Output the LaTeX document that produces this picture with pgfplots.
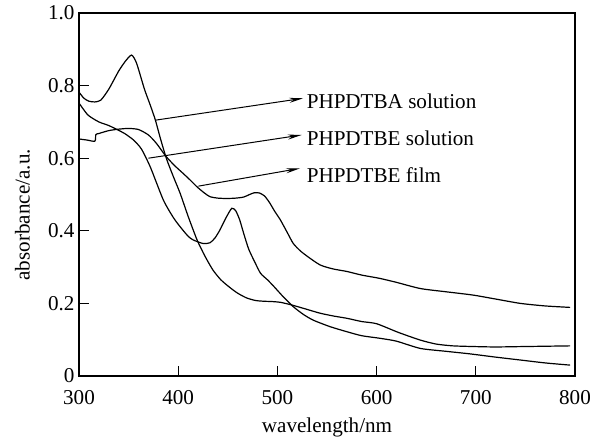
\documentclass[border=0pt]{standalone}
\usepackage{pgfplots}
\pgfplotsset{compat=1.18}
\usetikzlibrary{arrows.meta}
\usepackage{fontspec}
\setmainfont{Liberation Serif}

\begin{document}
\begin{tikzpicture}
\begin{axis}[
  name=ax,
  scale only axis,
  width=496bp, height=363bp,
  xmin=300, xmax=800, ymin=0, ymax=1.0,
  xtick={300,400,...,800},
  ytick={0,0.2,0.4,0.6,0.8,1.0},
  yticklabels={0,0.2,0.4,0.6,0.8,1.0},
  tick pos=left,
  tick align=inside,
  major tick length=10bp,
  axis line style={line width=1.1bp},
  tick style={line width=1.1bp, black},
  font=\fontsize{21.2}{25}\selectfont,
  /pgf/number format/assume math mode=true,
  xticklabel style={yshift=-11bp},
  yticklabel style={xshift=-1bp},
  xlabel={wavelength/nm},
  ylabel={absorbance/a.u.},
  xlabel style={at={(axis description cs:0.5,-0.142)}, anchor=center},
  ylabel style={at={(axis description cs:-0.114,0.444)}, anchor=center},
  cycle list={{black}},
  no markers,
  every axis plot/.append style={line width=1.2bp, smooth, tension=0.4},
  clip=false,
]
% PHPDTBA solution
\addplot coordinates {
(300,0.782) (305,0.765) (310,0.757) (316,0.755) (322,0.760) (330,0.790)
(340,0.840) (347,0.868) (353,0.884) (358,0.862) (366,0.790) (372,0.745)
(377,0.705) (382,0.655) (388,0.600) (395,0.550) (402,0.503) (410,0.440)
(419,0.375) (427,0.330) (435,0.292) (443,0.265) (452,0.244) (460,0.228)
(469,0.215) (478,0.208) (486,0.206) (495,0.205) (503,0.203) (514,0.196)
(528,0.185) (543,0.173) (557,0.165) (570,0.159) (585,0.150) (600,0.144)
(622,0.120) (644,0.099) (660,0.088) (677,0.083) (700,0.081) (720,0.080)
(745,0.081) (770,0.082) (795,0.083)
};
% PHPDTBE solution
\addplot coordinates {
(300,0.752) (309,0.719) (320,0.700) (330,0.690) (339,0.678) (346,0.668)
(355,0.650) (363,0.625) (372,0.575) (385,0.485) (395,0.437) (402,0.411)
(410,0.385) (415,0.375) (425,0.365) (432,0.367) (437,0.380) (442,0.402)
(448,0.435) (454,0.462) (458,0.455) (462,0.430) (466,0.393) (471,0.350)
(477,0.315) (483,0.283) (490,0.265) (496,0.248) (506,0.218) (516,0.191)
(526,0.170) (536,0.154) (553,0.136) (570,0.122) (585,0.111) (603,0.104)
(620,0.096) (644,0.076) (670,0.068) (694,0.061) (720,0.052) (745,0.044)
(770,0.036) (795,0.030)
};
% PHPDTBE film
\addplot coordinates {
(300,0.653) (308,0.650) (316,0.647) (317,0.665) (320,0.668) (330,0.676)
(340,0.680) (350,0.682) (360,0.679) (370,0.664) (378,0.641) (388,0.604)
(397,0.578) (405,0.558) (412,0.540) (419,0.521) (426,0.505) (432,0.494)
(440,0.490) (449,0.489) (458,0.490) (466,0.493) (472,0.500) (477,0.505)
(482,0.504) (487,0.496) (492,0.478) (497,0.455) (503,0.430) (510,0.395)
(516,0.365) (523,0.345) (530,0.330) (543,0.306) (556,0.295) (570,0.288)
(585,0.278) (603,0.269) (620,0.258) (644,0.241) (670,0.232) (697,0.223)
(720,0.212) (745,0.200) (770,0.193) (795,0.189)
};
% labels with arrows
\draw[line width=1bp, -{Stealth[length=14bp, width=5bp]}] (axis cs:377.6,0.705) -- (axis cs:526,0.765);
\draw[line width=1bp, -{Stealth[length=14bp, width=5bp]}] (axis cs:369.9,0.600) -- (axis cs:524.5,0.664);
\draw[line width=1bp, -{Stealth[length=14bp, width=5bp]}] (axis cs:420.3,0.523) -- (axis cs:522.8,0.572);
\node[anchor=west, inner sep=0pt] at (axis cs:529.4,0.756) {PHPDTBA solution};
\node[anchor=west, inner sep=0pt] at (axis cs:529.4,0.655) {PHPDTBE solution};
\node[anchor=west, inner sep=0pt] at (axis cs:529.4,0.554) {PHPDTBE film};
\end{axis}
\pgfresetboundingbox
\path ([shift={(-79bp,-67bp)}]ax.south west) rectangle ([shift={(17bp,13bp)}]ax.north east);
\end{tikzpicture}
\end{document}
